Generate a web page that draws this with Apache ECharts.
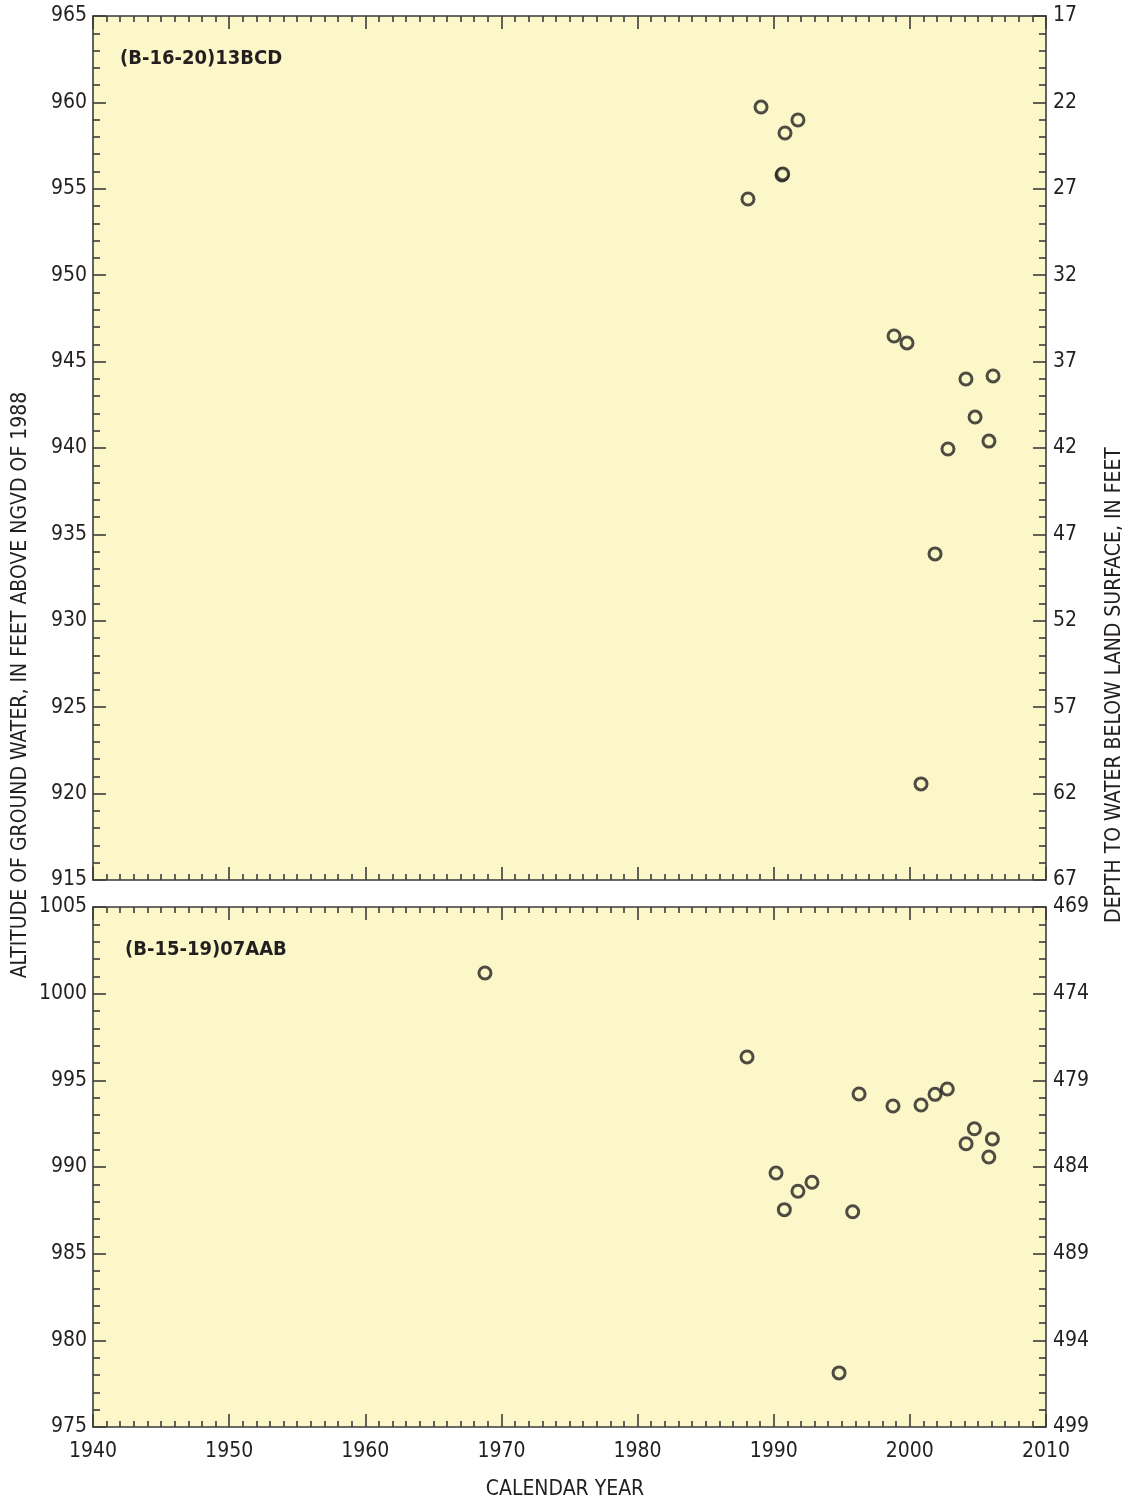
<!DOCTYPE html>
<html>
<head>
<meta charset="utf-8">
<script src="https://cdn.jsdelivr.net/npm/echarts@6/dist/echarts.min.js"></script>
<style>
html,body{margin:0;padding:0;background:#fff;}
#chart{width:1132px;height:1505px;}
</style>
</head>
<body>
<div id="chart"></div>
<script>
// ---- Data ----
var xTickYears = [1940, 1950, 1960, 1970, 1980, 1990, 2000, 2010];

// Well (B-16-20)13BCD
var topWell = "(B-16-20)13BCD";
var topYears  = [1988.11, 1989.07, 1990.61, 1990.66, 1990.83, 1991.78, 1998.84, 1999.79, 2000.82, 2001.85, 2002.80, 2004.12, 2004.79, 2005.81, 2006.11];
var topLevels = [954.41, 959.73, 955.80, 955.86, 958.23, 958.98, 946.48, 946.08, 920.56, 933.87, 939.94, 943.99, 941.79, 940.40, 944.17];
var topAltRange = [915, 965];
var topDepthRange = [17, 67];

// Well (B-15-19)07AAB
var botWell = "(B-15-19)07AAB";
var botYears  = [1968.79, 1988.04, 1990.17, 1990.78, 1991.78, 1992.81, 1994.80, 1995.80, 1996.27, 1998.76, 2000.82, 2001.85, 2002.75, 2004.13, 2004.74, 2005.80, 2006.06];
var botLevels = [1001.19, 996.35, 989.65, 987.54, 988.60, 989.12, 978.12, 987.42, 994.21, 993.52, 993.58, 994.19, 994.50, 991.34, 992.21, 990.58, 991.62];
var botAltRange = [975, 1005];
var botDepthRange = [469, 499];

var xName = "CALENDAR YEAR";
var leftName = "ALTITUDE OF GROUND WATER, IN FEET ABOVE NGVD OF 1988";
var rightName = "DEPTH TO WATER BELOW LAND SURFACE, IN FEET";

// ---- Styles ----
var FONT = "'DejaVu Sans Condensed', 'Liberation Sans Narrow', sans-serif";
var TXT = '#231f20';
var LINE = '#3b3b3b';
var BG = '#FBF7C8';

function zip(a, b) { return a.map(function (v, i) { return [v, b[i]]; }); }
function plain(v) { return String(v); }

function xAxis(grid, pos, showLabel) {
  return {
    type: 'value', gridIndex: grid, position: pos,
    min: xTickYears[0], max: xTickYears[xTickYears.length - 1], interval: 10,
    axisLine: { show: true, onZero: false, lineStyle: { color: LINE, width: 1.6 } },
    axisTick: { show: true, inside: true, length: 13, lineStyle: { color: LINE, width: 1.6 } },
    minorTick: { show: true, splitNumber: 10, length: 6, lineStyle: { color: LINE, width: 1.6 } },
    splitLine: { show: false }, minorSplitLine: { show: false },
    axisLabel: { show: showLabel, margin: 14, fontSize: 21, color: TXT, fontFamily: FONT, formatter: plain }
  };
}
function yAxis(grid, pos, range, inverse) {
  return {
    type: 'value', gridIndex: grid, position: pos, inverse: inverse,
    min: range[0], max: range[1], interval: 5,
    axisLine: { show: true, onZero: false, lineStyle: { color: LINE, width: 1.6 } },
    axisTick: { show: true, inside: true, length: 13, lineStyle: { color: LINE, width: 1.6 } },
    minorTick: { show: true, splitNumber: 5, length: 7, lineStyle: { color: LINE, width: 1.6 } },
    splitLine: { show: false }, minorSplitLine: { show: false },
    axisLabel: { show: true, margin: pos === 'left' ? 6 : 7, fontSize: 21, color: TXT, fontFamily: FONT, formatter: plain }
  };
}

var chart = echarts.init(document.getElementById('chart'), null, { renderer: 'canvas' });
var markerStyle = { color: BG, borderColor: TXT, borderWidth: 3 };

chart.setOption({
  animation: false,
  backgroundColor: '#ffffff',
  grid: [
    { left: 93, top: 16, width: 953, height: 864, show: true, backgroundColor: BG, borderWidth: 0 },
    { left: 93, top: 907, width: 953, height: 520, show: true, backgroundColor: BG, borderWidth: 0 }
  ],
  xAxis: [
    xAxis(0, 'bottom', false),
    xAxis(0, 'top', false),
    xAxis(1, 'bottom', true),
    xAxis(1, 'top', false)
  ],
  yAxis: [
    yAxis(0, 'left', topAltRange, false),
    yAxis(0, 'right', topDepthRange, true),
    yAxis(1, 'left', botAltRange, false),
    yAxis(1, 'right', botDepthRange, true)
  ],
  series: [
    { type: 'scatter', xAxisIndex: 0, yAxisIndex: 0, symbol: 'circle', symbolSize: 12,
      itemStyle: markerStyle, data: zip(topYears, topLevels) },
    { type: 'scatter', xAxisIndex: 2, yAxisIndex: 2, symbol: 'circle', symbolSize: 12,
      itemStyle: markerStyle, data: zip(botYears, botLevels) }
  ],
  graphic: [
    { type: 'text', x: 120, y: 59, z: 10, style: { text: topWell, fill: TXT, font: 'bold 20px ' + FONT, textAlign: 'left', textVerticalAlign: 'middle' } },
    { type: 'text', x: 125, y: 950, z: 10, style: { text: botWell, fill: TXT, font: 'bold 20px ' + FONT, textAlign: 'left', textVerticalAlign: 'middle' } },
    { type: 'text', x: 565, y: 1490, style: { text: xName, fill: TXT, font: '21px ' + FONT, textAlign: 'center', textVerticalAlign: 'middle' } },
    { type: 'text', x: 21, y: 685, rotation: Math.PI / 2, style: { text: leftName, fill: TXT, font: '21px ' + FONT, textAlign: 'center', textVerticalAlign: 'middle' } },
    { type: 'text', x: 1115, y: 685, rotation: Math.PI / 2, style: { text: rightName, fill: TXT, font: '21px ' + FONT, textAlign: 'center', textVerticalAlign: 'middle' } }
  ]
});
</script>
</body>
</html>
